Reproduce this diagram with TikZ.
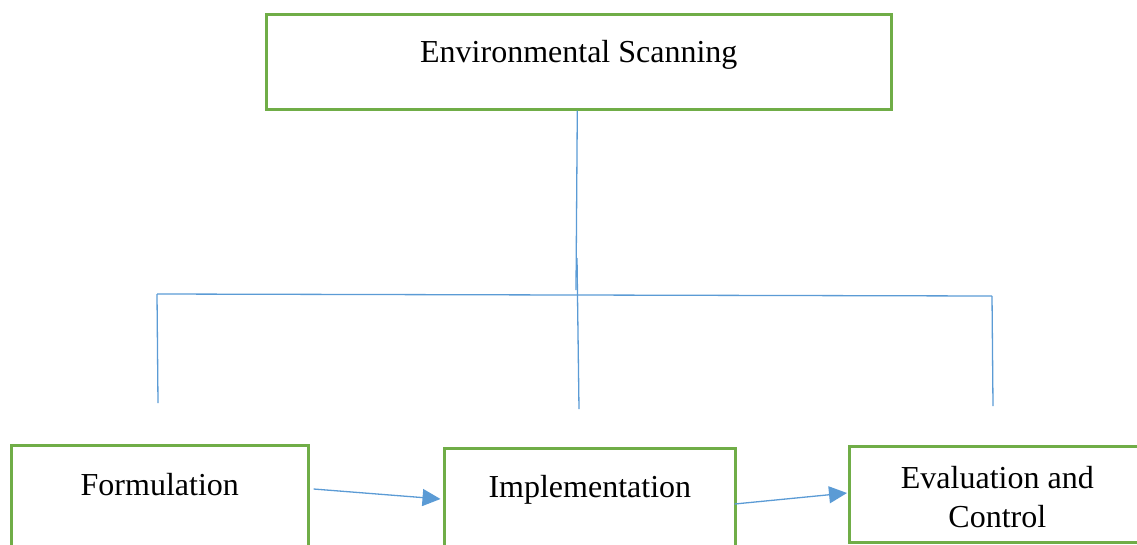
\documentclass[tikz,border=0pt]{standalone}
\usepackage{fontspec}
\setmainfont{Liberation Serif}
\usetikzlibrary{arrows.meta,calc}
\definecolor{boxgreen}{HTML}{70AD47}
\definecolor{lineblue}{HTML}{5B9BD5}
\tikzset{
  greenbox/.style={draw=boxgreen, line width=2.6pt, fill=white, inner sep=0pt, anchor=north west,
    font=\fontsize{32}{39}\selectfont},
  blueline/.style={draw=lineblue, line width=1.3pt},
  bluearrow/.style={draw=lineblue, line width=1.3pt, -{Triangle[length=18pt,width=17pt]}},
}
\begin{document}
\begin{tikzpicture}[x=1pt,y=-1pt]
\useasboundingbox (0,0) rectangle (1137,544);
% boxes
\node[greenbox, minimum width=625pt] (env) at (265,13)
  {\raisebox{0pt}[48pt][47pt]{Environmental Scanning}};
\node[greenbox, minimum width=297pt] (form) at (10,444)
  {\raisebox{0pt}[50pt][76pt]{Formulation}};
\node[greenbox, minimum width=291pt] (impl) at (443,447)
  {\raisebox{0pt}[49pt][74pt]{Implementation}};
\node[greenbox, minimum width=296pt] (eval) at (848,445)
  {\raisebox{0pt}[42pt][54pt]{\begin{tabular}[t]{@{}c@{}}Evaluation and\\Control\end{tabular}}};
% tree connectors
\coordinate (trunkend) at (576,290);
\coordinate (hl) at (157,294);
\coordinate (hr) at (992,296);
\coordinate (midtop) at (577,258);
\coordinate (dl) at (158,403);
\coordinate (dm) at (579,409);
\coordinate (dr) at (993,406);
\draw[blueline] ([xshift=-1.5pt]env.south) -- (trunkend);
\draw[blueline] (hl) -- (hr);
\draw[blueline] (hl) -- (dl);
\draw[blueline] (midtop) -- (dm);
\draw[blueline] (hr) -- (dr);
% arrows
\draw[bluearrow] ([xshift=4pt,yshift=-45pt]form.north east) -- ([xshift=-2.5pt,yshift=-52pt]impl.north west);
\draw[bluearrow] ([xshift=-2pt,yshift=-57pt]impl.north east) -- ([xshift=-1pt,yshift=-48pt]eval.north west);
\end{tikzpicture}
\end{document}
